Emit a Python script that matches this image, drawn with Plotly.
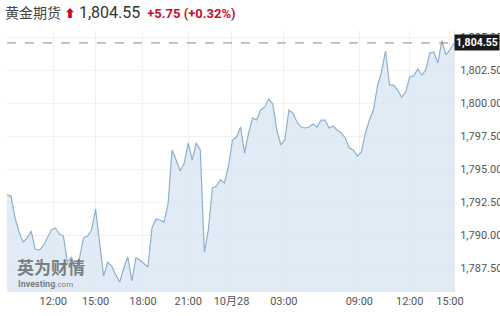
import plotly.graph_objects as go

prices = [
    1793.03, 1792.95, 1791.29, 1790.23, 1789.47, 1789.77, 1790.30, 1788.94, 1788.86, 1789.17,
    1789.77, 1790.38, 1790.53, 1790.08, 1789.92, 1787.95, 1788.33, 1787.50, 1788.26, 1789.77,
    1789.92, 1790.38, 1791.97, 1789.24, 1786.89, 1787.95, 1787.65, 1786.97, 1786.44, 1787.50,
    1788.33, 1786.52, 1788.26, 1788.11, 1787.88, 1787.58, 1790.53, 1791.21, 1791.14, 1790.98,
    1792.35, 1796.44, 1795.68, 1794.85, 1795.45, 1796.97, 1795.68, 1796.97, 1796.44, 1788.71,
    1790.38, 1793.56, 1793.71, 1794.17, 1793.94, 1795.23, 1797.20, 1797.42, 1798.18, 1796.21,
    1797.73, 1798.86, 1798.71, 1799.47, 1799.70, 1800.30, 1799.92, 1797.95, 1796.82, 1797.20,
    1799.47, 1799.24, 1798.56, 1798.18, 1798.11, 1798.18, 1798.41, 1798.18, 1798.71, 1798.71,
    1798.11, 1798.26, 1797.95, 1797.73, 1797.35, 1796.59, 1796.44, 1795.98, 1796.29, 1797.73,
    1798.71, 1799.47, 1801.29, 1802.35, 1803.94, 1801.36, 1801.36, 1800.98, 1800.45, 1800.83,
    1801.97, 1802.05, 1802.58, 1802.12, 1802.50, 1803.79, 1803.86, 1803.03, 1804.70, 1803.64,
    1804.02, 1804.55,
]
x_index = list(range(len(prices)))

x_tick_pos = [11.5, 22, 33.75, 45, 55.75, 68.75, 87.5, 100, 110]
x_tick_text = ["12:00", "15:00", "18:00", "21:00", "10月28", "03:00", "09:00", "12:00", "15:00"]
y_tick_vals = [1787.5, 1790.0, 1792.5, 1795.0, 1797.5, 1800.0, 1802.5, 1805.0]

last_price = 1804.55
title_name = "黄金期货"
change_text = "+5.75 (+0.32%)"

fig = go.Figure()
fig.add_trace(go.Scatter(
    x=x_index, y=prices, mode="lines",
    line=dict(color="#8fb0cc", width=1.2),
    fill="tozeroy", fillcolor="rgba(214,228,241,0.75)",
    hoverinfo="skip",
))

fig.add_shape(type="line", xref="paper", x0=0, x1=1, yref="y", y0=last_price, y1=last_price,
              line=dict(color="#888888", width=1, dash="dash"))

fig.add_annotation(xref="paper", x=1.0, yref="y", y=last_price, xanchor="left", yanchor="middle",
                   text="<b>1,804.55</b>", showarrow=False, bgcolor="#1a1a1a",
                   font=dict(color="white", size=10.5, family="Roboto"), borderpad=1, xshift=0)

fig.add_annotation(xref="paper", yref="paper", x=-0.008, y=1.0, yshift=18, xanchor="left", yanchor="middle",
                   showarrow=False,
                   text=(f"<span style='font-size:14px;color:#444'>{title_name}</span> "
                         "<span style='color:#d0021b;font-size:11px'>⬆</span> "
                         f"<span style='font-size:16px;color:#333'>1,804.55</span>  "
                         f"<span style='font-size:13px;color:#c8102e'><b>{change_text}</b></span>"),
                   font=dict(family="Roboto, Noto Sans CJK SC", size=14))

fig.add_annotation(xref="paper", yref="paper", x=0.018, y=0.095, xanchor="left", yanchor="middle",
                   showarrow=False, text="<b>英为财情</b>",
                   font=dict(family="Noto Sans CJK SC", size=17, color="rgba(105,105,105,0.85)"))
fig.add_annotation(xref="paper", yref="paper", x=0.02, y=0.025, xanchor="left", yanchor="middle",
                   showarrow=False, text="<b>Investing</b><span style='font-size:8px'>.com</span>",
                   font=dict(family="Roboto", size=9, color="rgba(105,105,105,0.85)"))

fig.update_layout(
    width=500, height=316,
    margin=dict(l=7, r=46, t=30, b=25),
    paper_bgcolor="white", plot_bgcolor="white",
    showlegend=False,
    font=dict(family="Roboto, Noto Sans CJK SC", size=11, color="#555"),
    xaxis=dict(range=[0, len(prices) - 1], tickvals=x_tick_pos, ticktext=x_tick_text,
               showgrid=True, gridcolor="rgba(235,235,235,0.7)", zeroline=False, automargin=False,
               showline=True, linecolor="#e6e6e6", ticks="", tickfont=dict(size=11, color="#555")),
    yaxis=dict(side="right", range=[1785.76, 1805.53], tickvals=y_tick_vals, tickformat=",.2f",
               showgrid=True, gridcolor="rgba(235,235,235,0.7)", zeroline=False, automargin=False,
               showline=True, linecolor="#e6e6e6", ticks="", ticklabelstandoff=3,
               tickfont=dict(size=11, color="#555")),
)

fig.write_html("out.html")
